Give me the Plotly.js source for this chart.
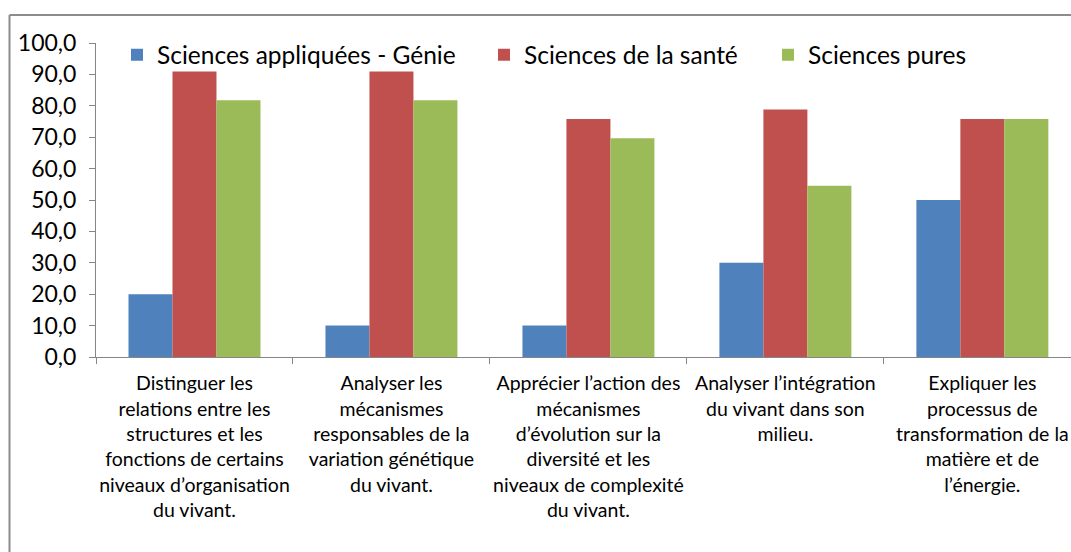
<!DOCTYPE html>
<html>
<head>
<meta charset="utf-8">
<script src="https://cdn.plot.ly/plotly-3.0.1.min.js"></script>
<style>
html,body{margin:0;padding:0;background:#fff;overflow:hidden;}
#chart{width:1071px;height:552px;}
</style>
</head>
<body>
<div id="chart"></div>
<script>
const categories = [
  "Distinguer les<br>relations entre les<br>structures et les<br>fonctions de certains<br>niveaux d’organisation<br>du vivant.",
  "Analyser les<br>mécanismes<br>responsables de la<br>variation génétique<br>du vivant.",
  "Apprécier l’action des<br>mécanismes<br>d’évolution sur la<br>diversité et les<br>niveaux de complexité<br>du vivant.",
  "Analyser l’intégration<br>du vivant dans son<br>milieu.",
  "Expliquer les<br>processus de<br>transformation de la<br>matière et de<br>l’énergie."
];
const seriesNames = ["Sciences appliquées - Génie", "Sciences de la santé", "Sciences pures"];
const appliquees = [20.0, 10.0, 10.0, 30.0, 50.0];
const sante = [90.9, 90.9, 75.8, 78.8, 75.8];
const pures = [81.8, 81.8, 69.7, 54.5, 75.8];
const yTicks = [0, 10, 20, 30, 40, 50, 60, 70, 80, 90, 100];

const colors = ["#4F81BD", "#C0504D", "#9BBB59"];
const FONT = "Lato, 'Open Sans', sans-serif";

const traces = [appliquees, sante, pures].map((vals, i) => ({
  type: "bar",
  name: seriesNames[i],
  x: categories,
  y: vals,
  marker: {color: colors[i], line: {width: 0}},
  legend: i === 0 ? "legend" : "legend" + (i + 1),
  hoverinfo: "y+name"
}));

const legendBase = {
  orientation: "h",
  yanchor: "middle",
  xanchor: "left",
  y: 0.962,
  bgcolor: "rgba(0,0,0,0)",
  borderwidth: 0,
  font: {family: FONT, size: 24.5, color: "#000"}
};

const layout = {
  width: 1071,
  height: 552,
  margin: {l: 96, r: 0, t: 43, b: 195, autoexpand: false},
  paper_bgcolor: "#fff",
  plot_bgcolor: "#fff",
  separators: ", ",
  font: {family: FONT, color: "#000"},
  barmode: "group",
  bargap: 0.33,
  bargroupgap: 0,
  showlegend: true,
  legend: Object.assign({}, legendBase, {x: (117 - 96) / 975}),
  legend2: Object.assign({}, legendBase, {x: (484 - 96) / 975}),
  legend3: Object.assign({}, legendBase, {x: (768 - 96) / 975}),
  xaxis: {
    type: "category",
    range: [-0.5, 4.45],
    showline: true,
    linecolor: "#868686",
    linewidth: 1,
    ticks: "outside",
    tickson: "boundaries",
    ticklen: 6,
    tickcolor: "#868686",
    showgrid: false,
    zeroline: false,
    automargin: false,
    tickangle: 0,
    ticklabelstandoff: 9,
    tickfont: {family: FONT, size: 19.5, color: "#000"},
    fixedrange: true
  },
  yaxis: {
    range: [0, 100],
    tickvals: yTicks,
    tickformat: ".1f",
    showline: true,
    linecolor: "#868686",
    linewidth: 1,
    ticks: "outside",
    ticklen: 6,
    tickcolor: "#868686",
    showgrid: false,
    zeroline: false,
    automargin: false,
    ticklabelstandoff: 8,
    tickfont: {family: FONT, size: 23, color: "#000"},
    fixedrange: true
  },
  shapes: [
    {type: "line", xref: "paper", yref: "paper",
     x0: (9.5 - 96) / 975, x1: 1.1, y0: (357 - 15) / 314, y1: (357 - 15) / 314,
     line: {color: "#8c8c8c", width: 2}},
    {type: "line", xref: "paper", yref: "paper",
     x0: (9.5 - 96) / 975, x1: (9.5 - 96) / 975, y0: (357 - 15) / 314, y1: -1,
     line: {color: "#8c8c8c", width: 2}}
  ]
};

Plotly.newPlot("chart", traces, layout, {displayModeBar: false});
</script>
</body>
</html>
